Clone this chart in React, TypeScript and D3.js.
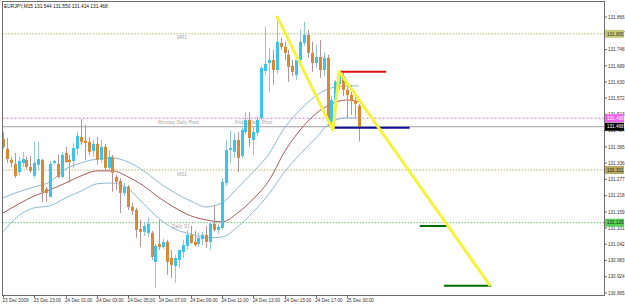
import React from 'react';
import * as d3 from 'd3';

// ---- candle data (EURJPY M15), bar index 0 = 23 Dec 2009 21:00 ----
const openP = [131.424,131.388,131.348,131.333,131.304,131.337,131.348,131.322,131.290,131.330,
131.348,131.243,131.213,131.337,131.333,131.286,131.373,131.348,131.344,131.388,
131.431,131.417,131.413,131.380,131.406,131.348,131.395,131.319,131.359,131.286,
131.272,131.228,131.250,131.177,131.166,131.097,131.087,131.083,131.083,130.978,
131.043,131.032,131.050,130.992,130.963,130.985,131.014,131.036,131.076,131.050,
131.043,131.061,131.076,131.050,131.116,131.094,131.101,131.264,131.384,131.377,
131.420,131.362,131.449,131.493,131.420,131.446,131.500,131.670,131.699,131.710,
131.674,131.772,131.758,131.729,131.689,131.656,131.710,131.772,131.801,131.736,
131.699,131.721,131.674,131.718,131.486,131.565,131.623,131.652,131.602,131.583,
131.562,131.544];
const highP = [131.449,131.427,131.359,131.373,131.359,131.377,131.359,131.362,131.413,131.413,
131.351,131.250,131.344,131.348,131.366,131.377,131.395,131.366,131.409,131.449,
131.496,131.475,131.431,131.420,131.431,131.420,131.406,131.384,131.366,131.293,
131.282,131.264,131.257,131.192,131.174,131.130,131.123,131.137,131.090,131.043,
131.130,131.061,131.058,131.021,131.003,131.021,131.058,131.094,131.108,131.090,
131.083,131.087,131.108,131.123,131.184,131.116,131.282,131.420,131.456,131.446,
131.449,131.464,131.522,131.522,131.467,131.507,131.689,131.830,131.754,131.747,
131.870,131.790,131.776,131.747,131.710,131.703,131.819,131.848,131.819,131.776,
131.765,131.783,131.739,131.729,131.580,131.638,131.667,131.663,131.623,131.620,
131.591,131.550];
const lowP = [131.388,131.337,131.322,131.282,131.293,131.322,131.315,131.301,131.282,131.311,
131.195,131.195,131.213,131.330,131.282,131.282,131.337,131.264,131.319,131.366,
131.402,131.348,131.366,131.359,131.330,131.337,131.311,131.304,131.232,131.239,
131.155,131.217,131.166,131.148,131.065,131.032,131.072,131.068,130.985,130.883,
131.021,131.025,130.931,130.920,130.902,130.956,130.992,131.021,131.043,131.032,
131.032,131.039,131.029,131.021,131.087,131.079,131.094,131.253,131.337,131.355,
131.304,131.355,131.442,131.395,131.366,131.435,131.493,131.656,131.594,131.620,
131.660,131.747,131.710,131.631,131.652,131.638,131.703,131.761,131.718,131.667,
131.681,131.645,131.652,131.471,131.456,131.544,131.602,131.580,131.500,131.511,
131.504,131.414];
const closeP = [131.395,131.351,131.337,131.290,131.344,131.351,131.322,131.308,131.337,131.351,
131.232,131.228,131.333,131.344,131.286,131.366,131.340,131.340,131.391,131.435,
131.413,131.409,131.377,131.406,131.348,131.395,131.319,131.359,131.301,131.268,
131.228,131.250,131.177,131.163,131.094,131.087,131.108,131.116,130.996,131.036,
131.032,131.050,130.978,130.967,130.992,131.021,131.039,131.076,131.047,131.039,
131.065,131.076,131.050,131.116,131.094,131.105,131.268,131.384,131.391,131.420,
131.355,131.456,131.493,131.427,131.449,131.493,131.681,131.696,131.710,131.674,
131.776,131.758,131.736,131.685,131.667,131.710,131.776,131.801,131.736,131.699,
131.721,131.674,131.718,131.486,131.565,131.631,131.652,131.602,131.583,131.562,
131.551,131.468];

// ---- moving-average band readings (bar index -> price) ----
const maIdx = [0,4,8,12,16,20,24,28,32,36,40,44,48,52,56,60,64,68,72,76,80,84,88,91];
const maUpper = [131.210,131.232,131.250,131.268,131.315,131.337,131.351,131.355,131.340,131.308,
131.264,131.228,131.199,131.177,131.192,131.246,131.304,131.369,131.464,131.529,131.580,131.609,131.616,131.616];
const maMid = [131.155,131.188,131.217,131.239,131.264,131.290,131.308,131.308,131.286,131.253,
131.210,131.174,131.145,131.130,131.123,131.155,131.206,131.272,131.377,131.456,131.515,131.551,131.565,131.558];
const maLower = [131.087,131.145,131.174,131.181,131.210,131.235,131.261,131.264,131.243,131.188,
131.134,131.097,131.079,131.065,131.068,131.105,131.159,131.224,131.304,131.369,131.427,131.486,131.500,131.500];

// ---- axes ----
const priceTicks = ['131.866','131.807','131.748','131.689','131.630','131.572','131.513','131.454','131.395',
'131.336','131.277','131.218','131.159','131.101','131.042','130.983','130.924','130.865'];
const timeLabels = ['23 Dec 2009','23 Dec 23:00','24 Dec 01:00','24 Dec 03:00','24 Dec 05:00','24 Dec 07:00',
'24 Dec 09:00','24 Dec 11:00','24 Dec 13:00','24 Dec 15:00','24 Dec 17:00','25 Dec 00:00'];
const timeLabelIdx = [0,8,16,24,32,40,48,56,64,72,80,88];

// ---- pivot levels ----
const levelPrices = [131.805, 131.499, 131.311, 131.120];
const levelTags = ['131.805', '131.499', '131.311', '131.120'];
const levelNames = ['MR1', 'Monday Daily Pivot', 'MS1', 'Daily S1'];
const fridayPivotName = 'Friday Daily Pivot';
const bidPrice = 131.468;
const title = 'EURJPY,M15  131.544 131.550 131.414 131.468';

// ---- drawn objects ----
const zigIdx = [70, 84.4, 86, 124.6];
const zigPrice = [131.870, 131.456, 131.667, 130.891];
const redIdx = [86, 98];
const redPrice = 131.667;
const navyIdx = [84.4, 104];
const navyPrice = 131.464;
const greenShortIdx = [106.6, 113.6];
const greenShortPrice = 131.108;
const greenLongIdx = [112.8, 124.8];
const greenLongPrice = 130.891;

const W = 625, H = 305;
const PL = 2.5, PR = 604.5, PT = 1.5, PB = 295.5;
const FONT = '"Liberation Sans", Arial, sans-serif';

export default function App() {
  const x = d3.scaleLinear().domain([0, 91]).range([3, 358.8]);
  const y = d3.scaleLinear().domain([130.865, 131.866]).range([293, 17]);
  const tickVals = priceTicks.map(Number);

  const mkLine = (vals: number[]) =>
    d3.line<number>().x((_, i) => x(maIdx[i])).y((v) => y(v)).curve(d3.curveMonotoneX)(vals) || '';

  const zigPath = d3.line<number>().x((v) => x(v)).y((_, i) => y(zigPrice[i]))(zigIdx) || '';

  const levelStyle = [
    { stroke: '#b8b86a', dash: '1.5,1.5' },
    { stroke: '#d070d0', dash: '2,2' },
    { stroke: '#b8b86a', dash: '1.5,1.5' },
    { stroke: '#6cc06c', dash: '1.5,1.5' },
  ];
  const tagStyle = [
    { fill: '#c8c87a', text: '#333' },
    { fill: '#f060f0', text: '#fff' },
    { fill: '#b8a860', text: '#222' },
    { fill: '#58d058', text: '#222' },
  ];
  const nameX = [177, 158, 177, 172];

  return (
    <svg width={W} height={H} style={{ position: 'absolute', left: 0, top: 0, display: 'block', background: '#fff' }}
      fontFamily={FONT}>
      <defs>
        <clipPath id="plot">
          <rect x={PL} y={PT} width={PR - PL} height={PB - PT} />
        </clipPath>
      </defs>
      <rect x={0} y={0} width={W} height={H} fill="#fff" />

      {/* pivot level lines */}
      {levelPrices.map((p, k) => (
        <line key={'lv' + k} x1={PL} x2={PR} y1={y(p)} y2={y(p)} stroke={levelStyle[k].stroke}
          strokeDasharray={levelStyle[k].dash} strokeWidth={1} />
      ))}
      {levelPrices.map((p, k) => (
        <text key={'ln' + k} x={nameX[k]} y={y(p) + 5.5} fontSize={4.8} fill="#a8a8a8">{levelNames[k]}</text>
      ))}
      <text x={235} y={y(levelPrices[1]) + 5.5} fontSize={4.8} fill="#a8a8a8">{fridayPivotName}</text>

      {/* bid line */}
      <line x1={PL} x2={PR} y1={y(bidPrice)} y2={y(bidPrice)} stroke="#a0a0a0" strokeWidth={1} />

      <g clipPath="url(#plot)">
        {/* bands */}
        <path d={mkLine(maUpper)} fill="none" stroke="#8cb8d2" strokeWidth={1} />
        <path d={mkLine(maMid)} fill="none" stroke="#a85858" strokeWidth={1} />
        <path d={mkLine(maLower)} fill="none" stroke="#8cb8d2" strokeWidth={1} />

        {/* candles */}
        {openP.map((o, i) => {
          const c = closeP[i];
          const bull = c >= o;
          const cx = Math.round(x(i)) + 0.5;
          const top = y(Math.max(o, c));
          const bot = y(Math.min(o, c));
          return (
            <g key={'c' + i}>
              <line x1={cx} x2={cx} y1={y(highP[i])} y2={y(lowP[i])} stroke={bull ? '#94c6da' : '#b89494'} strokeWidth={1} />
              <rect x={cx - 1.5} y={top} width={3} height={Math.max(1, bot - top)}
                fill={bull ? '#38c4ec' : '#dc8830'} />
            </g>
          );
        })}
      </g>

      {/* drawn objects */}
      <line x1={x(redIdx[0])} x2={x(redIdx[1])} y1={y(redPrice)} y2={y(redPrice)} stroke="#e01010" strokeWidth={2} />
      <line x1={x(navyIdx[0])} x2={x(navyIdx[1])} y1={y(navyPrice)} y2={y(navyPrice)} stroke="#10109a" strokeWidth={2} />
      <line x1={x(greenShortIdx[0])} x2={x(greenShortIdx[1])} y1={y(greenShortPrice)} y2={y(greenShortPrice)} stroke="#006a00" strokeWidth={2} />
      <line x1={x(greenLongIdx[0])} x2={x(greenLongIdx[1])} y1={y(greenLongPrice)} y2={y(greenLongPrice)} stroke="#006a00" strokeWidth={2} />
      <path d={zigPath} fill="none" stroke="#f4f43c" strokeWidth={3} strokeLinejoin="round" />

      {/* frame */}
      <rect x={PL} y={PT} width={PR - PL} height={PB - PT} fill="none" stroke="#6e6e6e" strokeWidth={1} />

      {/* title */}
      <text x={4} y={8} fontSize={4.8} fill="#111">{title}</text>

      {/* right axis */}
      {tickVals.map((v, k) => (
        <g key={'t' + k}>
          <line x1={PR} x2={PR + 2.5} y1={y(v)} y2={y(v)} stroke="#444" strokeWidth={0.8} />
          <text x={608} y={y(v) + 1.7} fontSize={4.6} fill="#333">{priceTicks[k]}</text>
        </g>
      ))}
      {levelPrices.map((p, k) => (
        <g key={'tag' + k}>
          <rect x={605} y={y(p) - 4} width={19} height={8} fill={tagStyle[k].fill} />
          <text x={607} y={y(p) + 1.7} fontSize={4.6} fill={tagStyle[k].text}>{levelTags[k]}</text>
        </g>
      ))}
      <rect x={605} y={y(bidPrice) - 4} width={19} height={8} fill="#000" />
      <text x={607} y={y(bidPrice) + 1.7} fontSize={4.6} fill="#fff">{bidPrice.toFixed(3)}</text>

      {/* bottom axis */}
      {timeLabelIdx.map((idx, k) => (
        <g key={'x' + k}>
          <line x1={Math.round(x(idx)) + 0.5} x2={Math.round(x(idx)) + 0.5} y1={PB} y2={PB + 2.5} stroke="#444" strokeWidth={0.8} />
          <text x={x(idx) - 0.5} y={302} fontSize={4.6} fill="#333">{timeLabels[k]}</text>
        </g>
      ))}
    </svg>
  );
}
